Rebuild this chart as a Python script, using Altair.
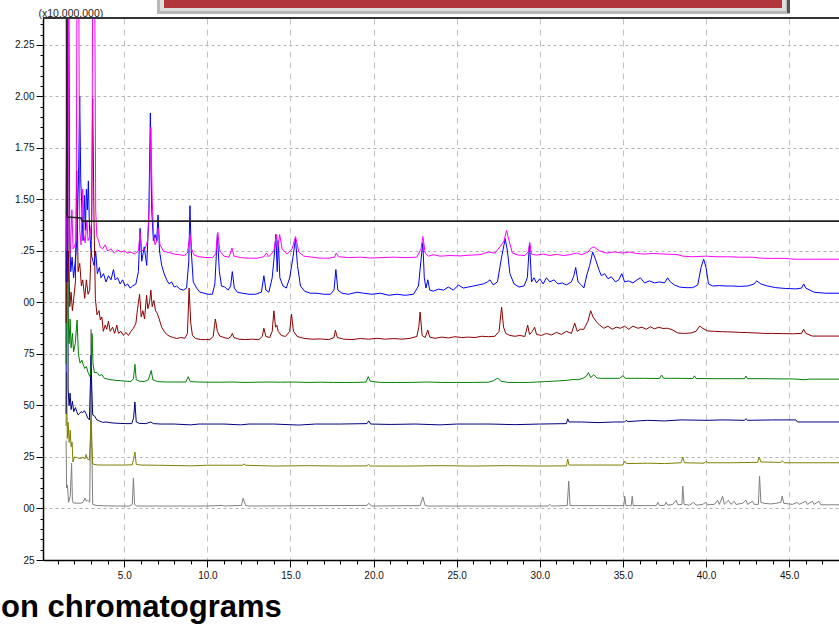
import altair as alt
import pandas as pd

# Axis ranges: retention time (min) and intensity (x10,000,000)
T_MIN, T_MAX = 0.11, 48.0
Y_MIN, Y_MAX = -0.25, 2.381
OFF = 2.6  # peaks that run off the top of the plot

# (retention time, intensity) for every trace
MAGENTA = [
    (1.50, 1.25), (1.55, OFF), (1.62, OFF), (1.68, 1.30), (1.75, 1.24), (1.85, 1.45), (1.92, 1.26),
    (2.00, 1.27), (2.10, 1.30), (2.16, OFF), (2.26, OFF), (2.32, 1.35), (2.40, 1.28), (2.50, 1.55),
    (2.56, 1.33), (2.65, 1.29), (2.75, 1.40), (2.82, 1.30), (2.92, 1.32), (3.05, 1.40), (3.10, OFF),
    (3.22, OFF), (3.28, 1.45), (3.35, 1.32), (3.45, 1.30), (3.55, 1.27), (3.70, 1.26), (3.85, 1.28),
    (4.00, 1.25), (4.20, 1.26), (4.40, 1.24), (4.60, 1.255), (4.80, 1.245), (5.00, 1.25), (5.20, 1.24),
    (5.40, 1.245), (5.60, 1.235), (5.85, 1.25), (5.95, 1.34), (6.05, 1.25), (6.25, 1.26), (6.40, 1.30),
    (6.52, 1.50), (6.60, 1.85), (6.68, 1.50), (6.76, 1.33), (6.85, 1.28), (6.97, 1.30), (7.05, 1.36),
    (7.15, 1.28), (7.35, 1.25), (7.55, 1.245), (7.80, 1.24), (8.00, 1.235), (8.30, 1.232), (8.60, 1.228),
    (8.80, 1.24), (8.95, 1.33), (9.05, 1.26), (9.20, 1.23), (9.50, 1.222), (9.90, 1.218), (10.30, 1.218),
    (10.50, 1.235), (10.63, 1.34), (10.75, 1.25), (11.00, 1.225), (11.30, 1.22), (11.48, 1.265),
    (11.60, 1.225), (12.0, 1.218), (12.5, 1.215), (13.0, 1.215), (13.40, 1.222), (13.55, 1.24),
    (13.70, 1.222), (14.00, 1.25), (14.15, 1.33), (14.25, 1.27), (14.35, 1.33), (14.50, 1.26),
    (14.80, 1.235), (15.10, 1.26), (15.30, 1.32), (15.50, 1.245), (15.80, 1.225), (16.3, 1.22),
    (16.8, 1.215), (17.3, 1.215), (17.65, 1.22), (17.75, 1.24), (17.90, 1.222), (18.5, 1.218),
    (19.2, 1.22), (19.8, 1.216), (20.5, 1.218), (21.2, 1.22), (21.9, 1.218), (22.6, 1.22), (22.85, 1.26),
    (22.97, 1.32), (23.10, 1.24), (23.3, 1.225), (23.6, 1.232), (24.0, 1.225), (24.6, 1.228),
    (25.2, 1.226), (25.8, 1.23), (26.4, 1.232), (26.9, 1.245), (27.3, 1.24), (27.6, 1.27), (27.85, 1.30),
    (28.0, 1.35), (28.15, 1.30), (28.35, 1.24), (28.7, 1.23), (29.1, 1.228), (29.30, 1.245), (29.40, 1.29),
    (29.50, 1.235), (29.8, 1.23), (30.2, 1.235), (30.6, 1.228), (31.0, 1.234), (31.4, 1.228),
    (31.8, 1.232), (32.2, 1.24), (32.5, 1.232), (32.9, 1.245), (33.1, 1.265), (33.25, 1.27), (33.6, 1.25),
    (34.0, 1.24), (34.5, 1.245), (35.0, 1.24), (35.4, 1.245), (35.8, 1.238), (36.3, 1.235), (36.8, 1.238),
    (37.3, 1.236), (37.8, 1.234), (38.3, 1.232), (38.6, 1.225), (39.2, 1.222), (40.0, 1.225),
    (40.6, 1.222), (41.3, 1.222), (42.0, 1.22), (42.8, 1.22), (43.3, 1.215), (44.0, 1.214), (44.8, 1.214),
    (45.3, 1.21), (46.0, 1.21), (47.0, 1.21), (48.0, 1.21),
]

BLUE = [
    (1.50, 1.10), (1.56, OFF), (1.66, OFF), (1.72, 1.30), (1.78, 1.15), (1.86, 1.22), (1.95, 1.12),
    (2.05, 1.20), (2.15, 1.30), (2.25, 1.62), (2.32, 2.00), (2.38, 1.60), (2.45, 1.45), (2.52, 1.30),
    (2.60, 1.52), (2.66, 1.35), (2.72, 1.55), (2.78, 1.45), (2.84, 1.59), (2.90, 1.38), (2.97, 1.28),
    (3.05, 1.22), (3.12, 1.20), (3.18, 1.18), (3.28, 1.25), (3.38, 1.14), (3.50, 1.17), (3.60, 1.12),
    (3.75, 1.14), (3.90, 1.10), (4.05, 1.13), (4.20, 1.11), (4.35, 1.16), (4.45, 1.11), (4.60, 1.12),
    (4.75, 1.09), (4.90, 1.11), (5.05, 1.08), (5.20, 1.09), (5.35, 1.07), (5.50, 1.08), (5.70, 1.09),
    (5.85, 1.15), (5.95, 1.36), (6.05, 1.20), (6.20, 1.27), (6.35, 1.18), (6.47, 1.40), (6.57, 1.92),
    (6.65, 1.45), (6.75, 1.30), (6.85, 1.33), (6.95, 1.30), (7.03, 1.425), (7.12, 1.25), (7.25, 1.18),
    (7.40, 1.14), (7.55, 1.11), (7.70, 1.09), (7.85, 1.10), (8.00, 1.075), (8.15, 1.08), (8.35, 1.065),
    (8.55, 1.06), (8.75, 1.07), (8.88, 1.20), (8.95, 1.47), (9.03, 1.25), (9.15, 1.10), (9.35, 1.07),
    (9.55, 1.05), (9.80, 1.045), (10.05, 1.04), (10.30, 1.04), (10.45, 1.09), (10.60, 1.33), (10.72, 1.15),
    (10.85, 1.08), (11.05, 1.075), (11.25, 1.06), (11.40, 1.08), (11.50, 1.15), (11.62, 1.07),
    (11.80, 1.05), (12.1, 1.045), (12.5, 1.04), (12.9, 1.04), (13.25, 1.05), (13.40, 1.13), (13.52, 1.06),
    (13.70, 1.05), (13.90, 1.12), (14.05, 1.25), (14.12, 1.33), (14.20, 1.15), (14.27, 1.30),
    (14.36, 1.12), (14.55, 1.08), (14.75, 1.07), (14.95, 1.12), (15.15, 1.22), (15.30, 1.31),
    (15.42, 1.18), (15.60, 1.08), (15.85, 1.055), (16.2, 1.045), (16.6, 1.045), (17.0, 1.04), (17.4, 1.04),
    (17.62, 1.06), (17.73, 1.16), (17.85, 1.06), (18.1, 1.045), (18.5, 1.04), (19.0, 1.05), (19.4, 1.045),
    (19.9, 1.04), (20.4, 1.045), (20.9, 1.035), (21.4, 1.04), (21.9, 1.035), (22.4, 1.04), (22.7, 1.08),
    (22.87, 1.22), (22.96, 1.29), (23.05, 1.12), (23.15, 1.07), (23.26, 1.11), (23.38, 1.06),
    (23.6, 1.055), (23.9, 1.065), (24.2, 1.06), (24.5, 1.075), (24.8, 1.06), (25.1, 1.085), (25.4, 1.07),
    (25.7, 1.075), (26.0, 1.08), (26.3, 1.085), (26.6, 1.09), (26.85, 1.10), (27.0, 1.11), (27.2, 1.085),
    (27.45, 1.10), (27.7, 1.22), (27.92, 1.31), (28.05, 1.25), (28.2, 1.14), (28.45, 1.09), (28.75, 1.075),
    (29.05, 1.08), (29.25, 1.12), (29.38, 1.29), (29.50, 1.10), (29.65, 1.12), (29.8, 1.095), (30.0, 1.115),
    (30.2, 1.09), (30.4, 1.12), (30.6, 1.10), (30.85, 1.11), (31.1, 1.09), (31.35, 1.095), (31.6, 1.085),
    (31.9, 1.10), (32.05, 1.13), (32.16, 1.17), (32.3, 1.10), (32.5, 1.085), (32.65, 1.07), (32.85, 1.14),
    (33.0, 1.18), (33.18, 1.245), (33.35, 1.21), (33.55, 1.16), (33.7, 1.13), (33.9, 1.14), (34.1, 1.115),
    (34.3, 1.125), (34.55, 1.10), (34.75, 1.11), (34.93, 1.14), (35.1, 1.10), (35.35, 1.105), (35.6, 1.095),
    (35.85, 1.11), (36.05, 1.12), (36.3, 1.095), (36.6, 1.105), (36.9, 1.095), (37.2, 1.10), (37.5, 1.095),
    (37.69, 1.12), (37.85, 1.10), (38.1, 1.085), (38.4, 1.075), (38.8, 1.072), (39.2, 1.072), (39.5, 1.085),
    (39.7, 1.17), (39.86, 1.21), (40.0, 1.17), (40.15, 1.09), (40.4, 1.08), (40.8, 1.082), (41.2, 1.08),
    (41.6, 1.08), (42.0, 1.078), (42.5, 1.08), (42.9, 1.09), (43.04, 1.105), (43.3, 1.09), (43.7, 1.08),
    (44.2, 1.072), (44.8, 1.068), (45.4, 1.066), (45.75, 1.07), (45.87, 1.09), (46.0, 1.07), (46.5, 1.05),
    (47.2, 1.045), (48.0, 1.045),
]

DARKRED = [
    (1.50, 0.90), (1.55, 1.72), (1.60, 1.10), (1.66, 1.25), (1.72, 0.98), (1.80, 1.05), (1.88, 0.96),
    (1.96, 1.02), (2.06, 1.10), (2.14, 1.64), (2.22, 1.15), (2.32, 1.19), (2.42, 1.08), (2.50, 1.11),
    (2.62, 1.02), (2.72, 1.11), (2.82, 1.04), (2.92, 1.06), (3.02, 1.30), (3.10, 1.99), (3.18, 1.40),
    (3.26, 1.02), (3.36, 0.94), (3.48, 0.96), (3.56, 0.915), (3.65, 0.93), (3.74, 0.86), (3.85, 0.89),
    (3.95, 0.87), (4.05, 0.91), (4.15, 0.86), (4.30, 0.88), (4.42, 0.85), (4.55, 0.89), (4.65, 0.85),
    (4.80, 0.86), (4.95, 0.84), (5.10, 0.855), (5.25, 0.84), (5.40, 0.86), (5.55, 0.875), (5.70, 0.90),
    (5.80, 0.97), (5.92, 1.04), (6.02, 0.93), (6.12, 0.96), (6.22, 0.92), (6.34, 1.035), (6.42, 0.97),
    (6.52, 1.00), (6.60, 1.06), (6.68, 0.98), (6.78, 1.01), (6.88, 0.96), (6.97, 0.95), (7.10, 0.92),
    (7.25, 0.88), (7.40, 0.86), (7.55, 0.845), (7.75, 0.835), (7.95, 0.83), (8.15, 0.825), (8.40, 0.83),
    (8.65, 0.826), (8.80, 0.85), (8.90, 1.07), (9.00, 0.90), (9.10, 0.84), (9.30, 0.825), (9.60, 0.82),
    (9.90, 0.82), (10.15, 0.82), (10.35, 0.835), (10.48, 0.92), (10.60, 0.86), (10.75, 0.837),
    (11.0, 0.83), (11.25, 0.825), (11.42, 0.835), (11.50, 0.85), (11.60, 0.83), (11.9, 0.822),
    (12.3, 0.82), (12.7, 0.822), (13.1, 0.82), (13.30, 0.835), (13.40, 0.875), (13.52, 0.835),
    (13.75, 0.83), (13.9, 0.86), (14.00, 0.96), (14.10, 0.88), (14.18, 0.89), (14.26, 0.86),
    (14.45, 0.84), (14.7, 0.835), (14.95, 0.86), (15.06, 0.944), (15.18, 0.86), (15.40, 0.835),
    (15.8, 0.826), (16.3, 0.822), (16.8, 0.823), (17.3, 0.82), (17.62, 0.83), (17.70, 0.865),
    (17.82, 0.83), (18.2, 0.822), (18.7, 0.82), (19.2, 0.825), (19.7, 0.822), (20.2, 0.826),
    (20.7, 0.822), (21.2, 0.825), (21.7, 0.822), (22.2, 0.826), (22.6, 0.835), (22.72, 0.88),
    (22.80, 0.954), (22.92, 0.84), (23.10, 0.83), (23.26, 0.866), (23.38, 0.832), (23.7, 0.826),
    (24.1, 0.832), (24.5, 0.828), (24.9, 0.834), (25.3, 0.83), (25.7, 0.832), (26.1, 0.83), (26.5, 0.836),
    (26.9, 0.834), (27.3, 0.836), (27.55, 0.86), (27.70, 0.978), (27.82, 0.88), (27.95, 0.85), (28.2, 0.84),
    (28.5, 0.836), (28.8, 0.84), (29.1, 0.835), (29.27, 0.89), (29.38, 0.845), (29.55, 0.86),
    (29.69, 0.88), (29.8, 0.845), (30.1, 0.84), (30.4, 0.85), (30.7, 0.842), (31.0, 0.855), (31.3, 0.845),
    (31.6, 0.86), (31.9, 0.85), (32.10, 0.90), (32.25, 0.86), (32.45, 0.87), (32.65, 0.87), (32.9, 0.91),
    (33.06, 0.96), (33.2, 0.93), (33.42, 0.905), (33.6, 0.89), (33.85, 0.875), (34.1, 0.885),
    (34.35, 0.87), (34.6, 0.88), (34.85, 0.875), (35.1, 0.885), (35.35, 0.87), (35.6, 0.885),
    (35.9, 0.875), (36.15, 0.88), (36.4, 0.87), (36.65, 0.882), (36.9, 0.872), (37.15, 0.88),
    (37.4, 0.874), (37.7, 0.875), (38.0, 0.866), (38.3, 0.852), (38.7, 0.85), (39.1, 0.852), (39.4, 0.86),
    (39.62, 0.886), (39.8, 0.875), (40.1, 0.862), (40.5, 0.86), (41.0, 0.858), (41.5, 0.857),
    (42.0, 0.855), (42.5, 0.854), (43.0, 0.852), (43.5, 0.85), (44.0, 0.85), (44.6, 0.849), (45.2, 0.848),
    (45.75, 0.85), (45.87, 0.87), (46.0, 0.85), (46.4, 0.837), (47.2, 0.837), (48.0, 0.837),
]

GREEN = [
    (1.50, 0.70), (1.53, OFF), (1.58, OFF), (1.62, 0.95), (1.68, 0.80), (1.74, 0.92), (1.80, 0.78),
    (1.88, 0.85), (1.95, 0.76), (2.05, 0.80), (2.16, 0.915), (2.24, 0.75), (2.34, 0.706), (2.45, 0.72),
    (2.52, 0.70), (2.62, 0.68), (2.72, 0.69), (2.82, 0.66), (2.94, 0.64), (3.02, 0.70), (3.06, 0.85),
    (3.12, 0.70), (3.20, 0.66), (3.36, 0.66), (3.50, 0.645), (3.65, 0.65), (3.80, 0.632), (4.0, 0.628),
    (4.2, 0.625), (4.5, 0.622), (4.8, 0.62), (5.1, 0.618), (5.40, 0.616), (5.55, 0.63), (5.64, 0.70),
    (5.72, 0.625), (5.90, 0.618), (6.2, 0.616), (6.45, 0.625), (6.62, 0.67), (6.72, 0.625), (7.0, 0.616),
    (7.5, 0.614), (8.0, 0.614), (8.7, 0.614), (8.85, 0.64), (8.97, 0.616), (9.5, 0.614), (10.2, 0.613),
    (10.8, 0.613), (11.5, 0.614), (12.2, 0.612), (13.0, 0.613), (13.6, 0.614), (14.4, 0.613),
    (15.2, 0.614), (16.0, 0.612), (16.8, 0.613), (17.6, 0.612), (18.3, 0.612), (19.0, 0.612),
    (19.55, 0.614), (19.68, 0.64), (19.80, 0.618), (20.4, 0.612), (21.3, 0.612), (22.3, 0.612),
    (23.2, 0.614), (24.1, 0.612), (25.0, 0.612), (26.0, 0.612), (26.9, 0.613), (27.2, 0.62),
    (27.47, 0.633), (27.65, 0.618), (28.1, 0.612), (28.7, 0.612), (29.3, 0.612), (29.8, 0.614),
    (30.3, 0.616), (30.8, 0.618), (31.2, 0.62), (31.6, 0.622), (32.0, 0.626), (32.3, 0.625),
    (32.6, 0.632), (32.8, 0.642), (32.93, 0.66), (33.06, 0.635), (33.25, 0.65), (33.45, 0.633),
    (33.8, 0.632), (34.3, 0.632), (34.8, 0.632), (35.0, 0.645), (35.15, 0.632), (35.7, 0.632),
    (36.3, 0.632), (37.2, 0.631), (37.33, 0.648), (37.45, 0.632), (38.2, 0.632), (39.2, 0.631),
    (39.3, 0.644), (39.4, 0.631), (40.5, 0.63), (41.6, 0.63), (42.32, 0.63), (42.4, 0.643), (42.5, 0.63),
    (43.5, 0.63), (44.5, 0.629), (45.2, 0.629), (45.93, 0.625), (46.2, 0.628), (47.1, 0.628),
    (48.0, 0.628),
]

NAVY = [
    (1.50, 0.46), (1.53, OFF), (1.58, OFF), (1.62, 0.58), (1.68, 0.50), (1.74, 0.56), (1.80, 0.48),
    (1.88, 0.52), (1.96, 0.47), (2.06, 0.49), (2.14, 0.47), (2.22, 0.455), (2.30, 0.46), (2.40, 0.47),
    (2.50, 0.465), (2.60, 0.475), (2.70, 0.46), (2.80, 0.44), (2.90, 0.43), (2.96, 0.60), (3.00, 0.745),
    (3.04, 0.60), (3.10, 0.454), (3.20, 0.45), (3.35, 0.43), (3.50, 0.425), (3.7, 0.418), (3.9, 0.42),
    (4.2, 0.416), (4.5, 0.414), (4.8, 0.413), (5.1, 0.412), (5.45, 0.412), (5.56, 0.44), (5.64, 0.517),
    (5.72, 0.42), (5.9, 0.413), (6.3, 0.412), (6.6, 0.42), (6.75, 0.412), (7.2, 0.41), (8.0, 0.41),
    (9.0, 0.406), (9.5, 0.41), (11.0, 0.41), (12.0, 0.406), (12.5, 0.41), (14.0, 0.41), (15.5, 0.405),
    (16.5, 0.41), (18.0, 0.41), (19.6, 0.412), (19.71, 0.425), (19.82, 0.41), (21.0, 0.408),
    (22.5, 0.41), (24.0, 0.406), (25.0, 0.41), (27.0, 0.41), (28.5, 0.407), (30.0, 0.41), (31.6, 0.412),
    (31.68, 0.435), (31.76, 0.42), (32.5, 0.42), (33.5, 0.417), (34.5, 0.42), (35.1, 0.42), (35.2, 0.428),
    (35.3, 0.422), (36.5, 0.428), (37.5, 0.425), (38.5, 0.43), (40.0, 0.428), (41.0, 0.43), (42.32, 0.428),
    (42.4, 0.436), (42.5, 0.428), (44.0, 0.43), (45.4, 0.43), (45.5, 0.42), (48.0, 0.42),
]

OLIVE = [
    (1.50, 0.40), (1.53, 0.66), (1.57, 0.34), (1.62, 0.42), (1.68, 0.32), (1.75, 0.38), (1.80, 0.30),
    (1.86, 0.323), (1.91, 0.226), (2.0, 0.25), (2.2, 0.245), (2.4, 0.243), (2.52, 0.25), (2.62, 0.24),
    (2.70, 0.262), (2.78, 0.24), (2.90, 0.235), (2.96, 0.33), (3.00, 0.43), (3.04, 0.33), (3.10, 0.216),
    (3.3, 0.212), (3.6, 0.211), (4.0, 0.211), (5.0, 0.211), (5.48, 0.212), (5.56, 0.24), (5.64, 0.274),
    (5.72, 0.214), (6.0, 0.211), (7.0, 0.21), (9.0, 0.207), (10.0, 0.21), (12.1, 0.21), (12.2, 0.216),
    (12.3, 0.21), (14.0, 0.206), (16.0, 0.208), (18.0, 0.206), (19.6, 0.207), (19.7, 0.214),
    (19.8, 0.206), (22.0, 0.206), (24.0, 0.208), (26.0, 0.206), (28.0, 0.208), (30.0, 0.206),
    (31.6, 0.207), (31.68, 0.24), (31.76, 0.211), (33.0, 0.211), (35.0, 0.211), (35.1, 0.23),
    (35.2, 0.218), (36.5, 0.22), (37.5, 0.218), (38.5, 0.222), (38.6, 0.25), (38.7, 0.222), (39.9, 0.22),
    (40.0, 0.23), (40.1, 0.222), (41.5, 0.222), (43.1, 0.224), (43.2, 0.25), (43.3, 0.226), (44.5, 0.224),
    (44.6, 0.232), (44.7, 0.222), (46.0, 0.222), (48.0, 0.222),
]

GRAY = [
    (1.50, 0.33), (1.53, 0.10), (1.58, 0.114), (1.65, 0.03), (1.75, 0.06), (1.83, 0.22), (1.88, 0.04),
    (1.93, 0.027), (2.1, 0.026), (2.4, 0.026), (2.52, 0.03), (2.64, 0.05), (2.72, 0.035), (2.80, 0.04),
    (2.92, 0.03), (2.97, 0.40), (3.00, 0.87), (3.03, 0.40), (3.10, 0.02), (3.3, 0.015), (3.8, 0.013),
    (4.5, 0.012), (5.3, 0.012), (5.48, 0.02), (5.55, 0.148), (5.62, 0.02), (5.75, 0.012), (7.0, 0.012),
    (8.5, 0.012), (10.0, 0.012), (10.9, 0.015), (11.0, 0.012), (12.05, 0.015), (12.15, 0.05),
    (12.3, 0.015), (12.5, 0.012), (19.6, 0.015), (19.7, 0.025), (19.9, 0.012), (22.8, 0.014),
    (22.96, 0.056), (23.1, 0.014), (23.3, 0.012), (30.5, 0.012), (30.6, 0.02), (30.7, 0.012),
    (31.65, 0.014), (31.74, 0.133), (31.82, 0.014), (35.05, 0.014), (35.11, 0.06), (35.18, 0.014),
    (35.5, 0.014), (35.56, 0.06), (35.62, 0.014), (37.0, 0.014), (37.1, 0.03), (37.2, 0.014),
    (37.5, 0.015), (37.6, 0.03), (37.7, 0.016), (38.0, 0.02), (38.2, 0.04), (38.3, 0.018), (38.55, 0.02),
    (38.6, 0.109), (38.68, 0.02), (39.0, 0.016), (39.25, 0.03), (39.4, 0.016), (39.8, 0.02), (40.0, 0.03),
    (40.1, 0.018), (40.5, 0.02), (40.7, 0.04), (40.8, 0.02), (41.0, 0.06), (41.1, 0.02), (41.35, 0.04),
    (41.5, 0.02), (41.7, 0.035), (41.8, 0.02), (42.2, 0.025), (42.4, 0.04), (42.5, 0.02), (42.8, 0.035),
    (42.9, 0.02), (43.15, 0.02), (43.22, 0.158), (43.3, 0.03), (43.5, 0.025), (43.9, 0.022),
    (44.2, 0.025), (44.5, 0.03), (44.58, 0.06), (44.68, 0.025), (45.0, 0.022), (45.2, 0.02), (45.5, 0.03),
    (45.6, 0.02), (46.0, 0.035), (46.1, 0.02), (46.4, 0.035), (46.5, 0.02), (46.8, 0.035), (46.9, 0.018),
    (47.5, 0.018), (48.0, 0.018),
]

BLACK = [(1.52, OFF), (1.55, 1.43), (1.58, 1.415), (2.40, 1.41), (2.47, 1.395), (48.0, 1.395)]

# drawing order bottom to top: (name, points, colour, stroke width)
TRACES = [
    ("gray", GRAY, "#808080", 1.0),
    ("olive", OLIVE, "#808000", 1.0),
    ("navy", NAVY, "#000080", 1.0),
    ("green", GREEN, "#008000", 1.0),
    ("darkred", DARKRED, "#8b0000", 1.0),
    ("blue", BLUE, "#0000ff", 1.0),
    ("magenta", MAGENTA, "#ff00ff", 1.0),
    ("black", BLACK, "#222222", 1.6),
]

Y_TICKS = [round(-0.25 + 0.05 * i, 2) for i in range(53)]
X_TICKS = list(range(1, 48))

W, H = 796, 542
FONT = "Liberation Sans"

Y_MAJOR = "abs(datum.value*4 - round(datum.value*4)) < 0.001"
X_MAJOR = "datum.value % 5 == 0"

x_enc = alt.X(
    "t:Q",
    scale=alt.Scale(domain=[T_MIN, T_MAX], nice=False, zero=False),
    axis=alt.Axis(
        values=X_TICKS,
        labelExpr=f"{X_MAJOR} ? format(datum.value, '.1f') : ''",
        labelOverlap=False,
        labelFlush=False,
        labelFont=FONT,
        labelFontSize=10,
        labelColor="#111111",
        labelPadding=3,
        tickSize={"condition": {"test": X_MAJOR, "value": 7}, "value": 4},
        tickColor="#000000",
        domainColor="#000000",
        domainWidth=1.5,
        grid=True,
        gridColor="#c2c2c2",
        gridDash=[6, 5],
        gridOpacity={"condition": {"test": X_MAJOR, "value": 1}, "value": 0},
        title=None,
    ),
)

y_enc = alt.Y(
    "v:Q",
    scale=alt.Scale(domain=[Y_MIN, Y_MAX], nice=False, zero=False),
    axis=alt.Axis(
        values=Y_TICKS,
        labelExpr=(
            f"!({Y_MAJOR}) ? '' : datum.value >= 1.5 ? format(datum.value, '.2f') : "
            "datum.value > 1.2 ? '.25' : slice(format(abs(datum.value), '.2f'), -2)"
        ),
        labelOverlap=False,
        labelFlush=False,
        labelFont=FONT,
        labelFontSize=10,
        labelColor="#111111",
        labelPadding=2,
        tickSize={"condition": {"test": Y_MAJOR, "value": 7}, "value": 3},
        tickColor="#000000",
        domainColor="#000000",
        domainWidth=1.5,
        grid=True,
        gridColor="#b4b4b4",
        gridDash=[3, 3],
        gridOpacity={"condition": {"test": Y_MAJOR, "value": 1}, "value": 0},
        title="(x10,000,000)",
        titleAngle=0,
        titleX=-5,
        titleY=-2,
        titleAlign="left",
        titleBaseline="alphabetic",
        titleFont=FONT,
        titleFontSize=10.5,
        titleFontWeight="normal",
        titleColor="#222222",
    ),
)

layers = []
for name, pts, color, sw in TRACES:
    df = pd.DataFrame({"t": [p[0] for p in pts], "v": [p[1] for p in pts], "i": range(len(pts))})
    layers.append(
        alt.Chart(df)
        .mark_line(color=color, strokeWidth=sw, clip=True, interpolate="linear")
        .encode(x=x_enc, y=y_enc, order=alt.Order("i:Q"))
    )

one_row = pd.DataFrame({"k": [0]})

# frame line along the top of the plot
top_frame = alt.Chart(one_row).mark_rule(color="#333333", strokeWidth=2).encode(y=alt.value(0))

# slide header bar peeking in above the plot
header_outer = alt.Chart(one_row).mark_rect(color="#b8b8b8").encode(
    x=alt.value(114), x2=alt.value(747), y=alt.value(-18), y2=alt.value(-4)
)
header_mid = alt.Chart(one_row).mark_rect(color="#dedede").encode(
    x=alt.value(117), x2=alt.value(743), y=alt.value(-18), y2=alt.value(-7)
)
header_red = alt.Chart(one_row).mark_rect(color="#b0363b").encode(
    x=alt.value(121), x2=alt.value(739), y=alt.value(-18), y2=alt.value(-10)
)
header_shadow = alt.Chart(one_row).mark_rect(color="#555555").encode(
    x=alt.value(744), x2=alt.value(747), y=alt.value(-18), y2=alt.value(-5)
)

caption = alt.Chart(one_row).mark_text(
    text="on chromatograms",
    font=FONT,
    fontSize=31,
    fontWeight="bold",
    color="#000000",
    align="left",
    baseline="alphabetic",
).encode(x=alt.value(-42), y=alt.value(599))

chart = (
    alt.layer(*layers, top_frame, header_outer, header_mid, header_red, header_shadow, caption)
    .properties(
        width=W,
        height=H,
        autosize=alt.AutoSizeParams(type="none"),
        padding={"left": 43, "top": 18, "right": 0, "bottom": 65},
        background="white",
    )
    .configure_view(stroke=None)
)

chart.save("out.html", embed_options={"renderer": "svg", "actions": False})
